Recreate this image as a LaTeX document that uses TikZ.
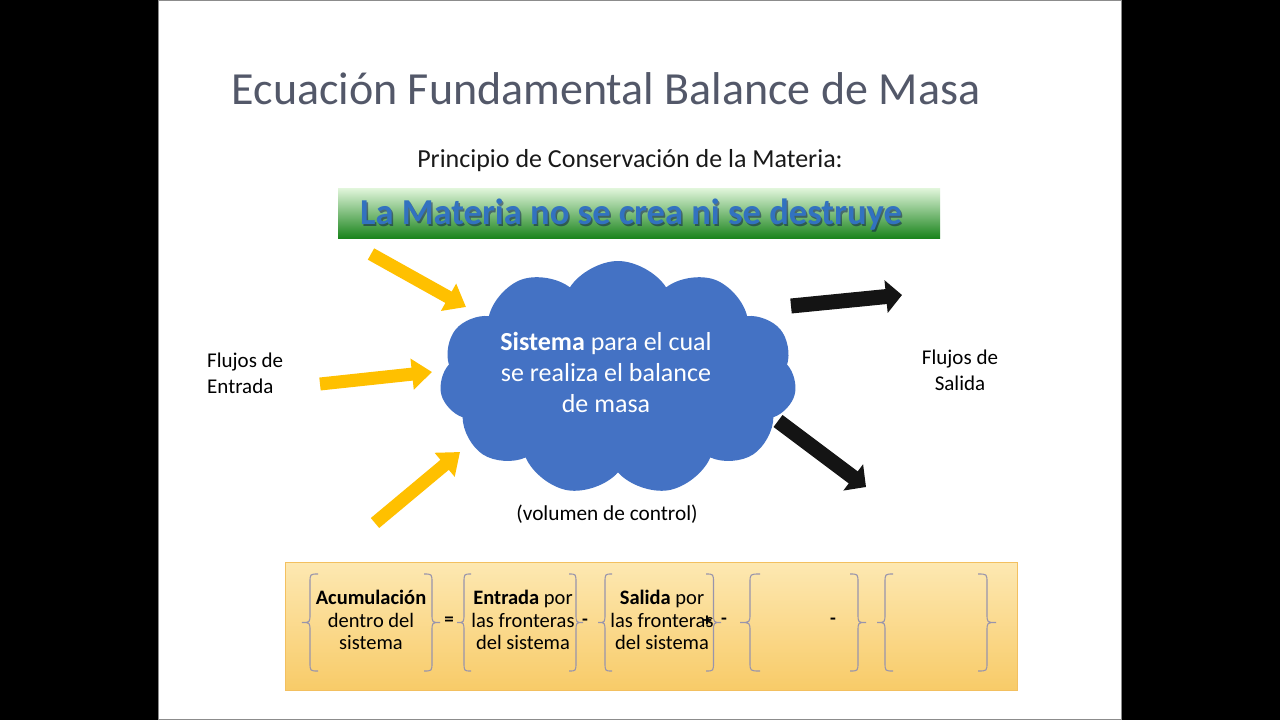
\documentclass[tikz,border=0pt]{standalone}
\usepackage{fontspec}
\setmainfont{Carlito}
\usetikzlibrary{shapes.symbols,arrows.meta}
\definecolor{titleC}{HTML}{535869}
\definecolor{arrowY}{HTML}{FFC000}
\definecolor{cloudB}{HTML}{4472C4}
\definecolor{barTop}{HTML}{E2F6DC}
\definecolor{barMid}{HTML}{8FD88A}
\definecolor{barBot}{HTML}{1A841C}
\definecolor{barText}{HTML}{3272C0}
\definecolor{boxTop}{HTML}{FDE8B2}
\definecolor{boxBot}{HTML}{F8CB68}
\definecolor{boxLine}{HTML}{F3C060}
\definecolor{braceC}{HTML}{9894AC}
\newcommand\mybrace[4]{%
  \pgfmathsetmacro\brMx{(#1+#2)/2}%
  \pgfmathsetmacro\brMy{(#3+#4)/2}%
  \draw[bracestyle] (#2,#3) .. controls (\brMx,#3) .. (\brMx,#3+9) -- (\brMx,\brMy-9) .. controls (\brMx,\brMy) .. (#1,\brMy) .. controls (\brMx,\brMy) .. (\brMx,\brMy+9) -- (\brMx,#4-9) .. controls (\brMx,#4) .. (#2,#4);}
\begin{document}
\begin{tikzpicture}[x=1pt,y=-1pt,
  yarrow/.style={draw=arrowY, line width=13pt, -{Triangle[width=30pt,length=20pt]}},
  karrow/.style={draw=black!92, line width=15pt, -{Triangle[width=32pt,length=16pt]}},
  bracestyle/.style={draw=braceC, line width=1.1pt},
  lbl/.style={inner sep=0pt, font=\fontsize{21}{26}\selectfont},
  eqtxt/.style={align=center, inner sep=0pt, font=\fontsize{20.5}{22.5}\selectfont},
  op/.style={inner sep=0pt, font=\fontsize{19}{22}\selectfont\bfseries}]
\useasboundingbox (0,0) rectangle (1280,720);
\fill[black] (0,0) rectangle (1280,720);
\draw[fill=white, draw=black!45, line width=1pt] (158.5,0.5) rectangle (1121.5,719);
% title
\node[text=titleC, inner sep=0pt, font=\fontsize{46}{55}\selectfont] (title) at (606,89) {Ecuación Fundamental Balance de Masa};
\node[inner sep=0pt, text=black!90, font=\fontsize{26}{31}\selectfont] (sub) at (630,161) {Principio de Conservación de la Materia:};
% green bar
\node[minimum width=602pt, minimum height=50pt, inner sep=0pt, top color=barTop, middle color=barMid, bottom color=barBot] (bar) at (639,213) {};
\node[text=black!70!blue, opacity=0.45, inner sep=0pt, font=\fontsize{36.5}{42}\selectfont\bfseries] (barsh) at (632.5,216.5) {La Materia no se crea ni se destruye};
\node[text=barText, inner sep=0pt, font=\fontsize{36.5}{42}\selectfont\bfseries] (bartxt) at (631,215) {La Materia no se crea ni se destruye};
% cloud
\node[cloud, cloud puffs=11, cloud puff arc=115, aspect=1.5, fill=cloudB, minimum width=357pt, minimum height=234pt, inner sep=0pt] (cloud) at (618,378) {};
\node[text=white, align=center, inner sep=0pt, font=\fontsize{26}{31}\selectfont] (ctext) at (606,372) {\textbf{Sistema} para el cual\\se realiza el balance\\de masa};
% arrows
\coordinate (y1s) at (371,254); \coordinate (y1e) at (466,307);
\coordinate (y2s) at (320,384); \coordinate (y2e) at (432,372);
\coordinate (y3s) at (375,523); \coordinate (y3e) at (460,452);
\coordinate (k1s) at (791,306); \coordinate (k1e) at (902,295);
\coordinate (k2s) at (778,421); \coordinate (k2e) at (866,487);
\draw[yarrow] (y1s) -- (y1e);
\draw[yarrow] (y2s) -- (y2e);
\draw[yarrow] (y3s) -- (y3e);
\draw[karrow] (k1s) -- (k1e);
\draw[karrow] (k2s) -- (k2e);
% labels
\node[lbl, align=left, anchor=west] (fin) at (207,373) {Flujos de\\Entrada};
\node[lbl, align=center] (fout) at (960,370) {Flujos de\\Salida};
\node[inner sep=0pt, font=\fontsize{21.3}{25}\selectfont] (vc) at (607,514) {(volumen de control)};
% equation box
\node[minimum width=732pt, minimum height=128pt, inner sep=0pt, draw=boxLine, line width=1pt, top color=boxTop, bottom color=boxBot] (eqbox) at (651,626) {};
\mybrace{302}{318}{574}{671}
\mybrace{440}{424}{574}{671}
\mybrace{457}{471}{574}{671}
\mybrace{583}{569}{574}{671}
\mybrace{598}{612}{574}{671}
\mybrace{721}{706}{574}{671}
\mybrace{740}{760}{574}{671}
\mybrace{866}{850}{574}{671}
\mybrace{877}{893}{574}{671}
\mybrace{996}{978}{574}{671}
\node[eqtxt] (acum) at (371,620) {\textbf{Acumulación}\\dentro del\\sistema};
\node[eqtxt] (entr) at (523,620) {\textbf{Entrada} por\\las fronteras\\del sistema};
\node[eqtxt] (sal) at (662,620) {\textbf{Salida} por\\las fronteras\\del sistema};
\node[op] (eq) at (449,621) {=};
\node[op] (m1) at (585,622) {-};
\node[op] (p1) at (707,621) {+};
\node[op] (m2) at (724,621) {-};
\node[op] (m3) at (833,621) {-};
\end{tikzpicture}
\end{document}
